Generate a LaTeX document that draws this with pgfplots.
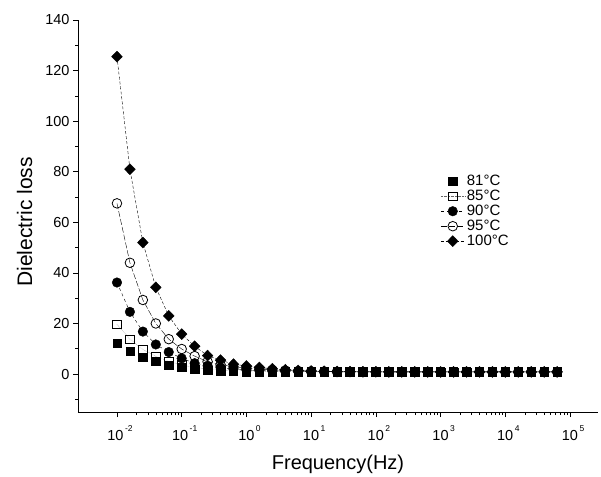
\documentclass[border=0pt]{standalone}
\usepackage{fontspec}
\setmainfont{Liberation Sans}
\usepackage{pgfplots}
\usepackage{pgfplotstable}
\pgfplotsset{compat=1.18}
\newcommand{\pw}[1]{10\kern1.5pt\raisebox{1.2ex}{\fontsize{8.5}{9}\selectfont #1}}
\pgfplotstableread{
f t81 t85 t90 t95 t100
0.01 12.3 19.7 36.2 67.5 125.5
0.01585 9.0 13.8 24.6 44.0 81.0
0.02512 6.6 9.7 16.8 29.3 52.0
0.03981 5.0 7.0 11.7 20.0 34.3
0.0631 3.6 5.0 8.7 13.8 23.0
0.1 2.6 3.6 6.2 9.9 15.8
0.1585 1.9 2.6 4.3 7.1 11.0
0.2512 1.5 2.0 3.3 4.9 7.3
0.3981 1.3 1.6 2.6 3.7 5.5
0.631 1.1 1.4 2.0 2.9 3.9
1 1.0 1.2 1.6 2.3 3.2
1.585 0.95 1.1 1.4 1.9 2.6
2.512 0.9 1.0 1.2 1.6 2.1
3.981 0.9 0.95 1.1 1.4 1.7
6.31 0.85 0.9 1.0 1.2 1.4
10 0.85 0.9 0.95 1.1 1.2
15.85 0.85 0.85 0.9 1.0 1.1
25.12 0.85 0.85 0.9 0.95 1.0
39.81 0.85 0.85 0.85 0.9 0.95
63.1 0.85 0.85 0.85 0.9 0.9
100 0.85 0.85 0.85 0.85 0.9
158.5 0.85 0.85 0.85 0.85 0.85
251.2 0.85 0.85 0.85 0.85 0.85
398.1 0.85 0.85 0.85 0.85 0.85
631 0.85 0.85 0.85 0.85 0.85
1000 0.85 0.85 0.85 0.85 0.85
1585 0.85 0.85 0.85 0.85 0.85
2512 0.85 0.85 0.85 0.85 0.85
3981 0.85 0.85 0.85 0.85 0.85
6310 0.85 0.85 0.85 0.85 0.85
10000 0.85 0.85 0.85 0.85 0.85
15850 0.85 0.85 0.85 0.85 0.85
25120 0.85 0.85 0.85 0.85 0.85
39810 0.85 0.85 0.85 0.85 0.85
63100 0.85 0.85 0.85 0.85 0.85
}\datatable
\begin{document}
\begin{tikzpicture}
\begin{axis}[
  scale only axis,
  width=520pt, height=392pt,
  xmode=log,
  xmin=0.0025, xmax=270000,
  ymin=-15, ymax=140,
  axis x line*=bottom, axis y line*=left,
  axis line style={-, line width=0.8pt},
  tick style={black, line width=0.6pt},
  tick align=outside,
  major tick length=5pt, minor tick length=3pt,
  xtick={0.01,0.1,1,10,100,1000,10000,100000},
  xticklabels={\pw{-2},\pw{-1},\pw{0},\pw{1},\pw{2},\pw{3},\pw{4},\pw{5}},
  ytick={0,20,40,60,80,100,120,140},
  minor ytick={-10,10,30,50,70,90,110,130},
  /pgf/number format/assume math mode=true,
  ticklabel style={font=\fontsize{14.5}{16}\selectfont},
  xticklabel style={yshift=-5pt, xshift=3pt},
  xlabel={Frequency(Hz)}, ylabel={Dielectric loss},
  xlabel style={font=\fontsize{20}{22}\selectfont, yshift=-7pt},
  ylabel style={font=\fontsize{21}{23}\selectfont, yshift=6pt, xshift=-6pt},
  legend style={draw=none, fill=none, at={(0.695,0.612)}, anchor=north west,
    font=\fontsize{15}{16}\selectfont, row sep=-1pt, inner sep=1pt},
  legend image code/.code={\draw[mark repeat=2,mark phase=2] plot coordinates {(0cm,0cm)(0.42cm,0cm)(0.84cm,0cm)};},
  legend cell align=left,
]
\addplot[only marks, mark=square*, mark size=4.2pt, black] table[x=f,y=t81]{\datatable};
\addlegendentry{81°C}
\addplot[black!60, densely dotted, mark=square, mark size=4.2pt, mark options={solid, black, fill=white, line width=0.7pt}] table[x=f,y=t85]{\datatable};
\addlegendentry{85°C}
\addplot[black, dashed, mark=*, mark size=4.8pt, mark options={solid}] table[x=f,y=t90]{\datatable};
\addlegendentry{90°C}
\addplot[black, dash pattern=on 6pt off 2pt, mark=o, mark size=4.8pt, mark options={solid, fill=white, line width=0.8pt}] table[x=f,y=t95]{\datatable};
\addlegendentry{95°C}
\addplot[black, densely dashed, mark=diamond*, mark size=5.5pt, mark options={solid, xscale=1.3}] table[x=f,y=t100]{\datatable};
\addlegendentry{100°C}
\end{axis}
\path ([xshift=-78pt,yshift=-64pt]current axis.south west) rectangle ([xshift=3pt,yshift=20pt]current axis.north east);
\end{tikzpicture}
\end{document}
